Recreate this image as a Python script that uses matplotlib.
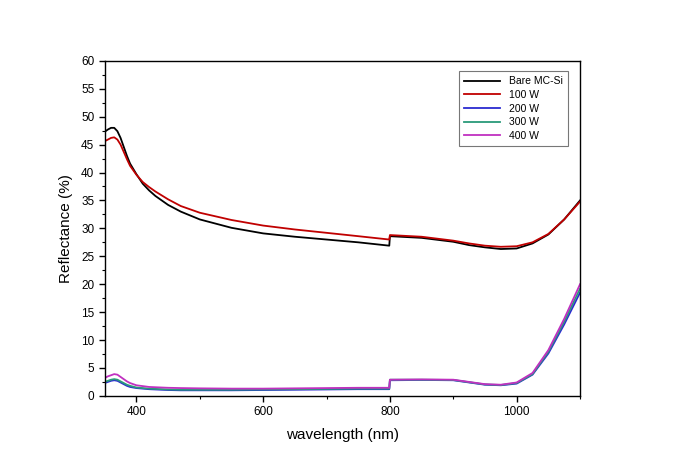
import matplotlib
matplotlib.use("Agg")
import matplotlib.pyplot as plt
from matplotlib.ticker import MultipleLocator

plt.rcParams['font.family'] = ['Liberation Sans', 'DejaVu Sans']

wavelength = [350, 355, 360, 365, 370, 375, 380, 385, 390, 400, 410, 420, 430, 450, 470, 500, 550, 600,
              650, 700, 750, 799, 800, 850, 900, 925, 950, 975, 1000, 1025, 1050, 1075, 1100]

bare = [47.3, 47.7, 48.0, 48.0, 47.4, 46.2, 44.6, 43.0, 41.6, 39.7, 38.0, 36.8, 35.8, 34.2, 33.0, 31.6,
        30.1, 29.1, 28.5, 28.0, 27.5, 26.9, 28.6, 28.3, 27.6, 27.0, 26.6, 26.3, 26.4, 27.3, 28.9, 31.6, 35.0]
w100 = [45.6, 45.9, 46.2, 46.3, 45.9, 45.0, 43.7, 42.4, 41.2, 39.6, 38.3, 37.4, 36.6, 35.2, 34.0, 32.8,
        31.5, 30.5, 29.8, 29.2, 28.6, 28.0, 28.8, 28.5, 27.8, 27.3, 26.9, 26.7, 26.8, 27.5, 29.0, 31.6, 34.8]
w200 = [2.3, 2.5, 2.7, 2.8, 2.7, 2.4, 2.1, 1.8, 1.6, 1.4, 1.3, 1.2, 1.15, 1.05, 1.0, 1.0,
        1.0, 1.05, 1.1, 1.15, 1.2, 1.2, 2.8, 2.85, 2.8, 2.4, 2.0, 1.9, 2.2, 3.8, 7.6, 12.8, 18.5]
w300 = [2.5, 2.7, 2.9, 3.0, 2.9, 2.6, 2.3, 2.0, 1.8, 1.5, 1.4, 1.3, 1.25, 1.15, 1.1, 1.1,
        1.1, 1.15, 1.2, 1.25, 1.3, 1.3, 2.9, 2.9, 2.85, 2.45, 2.05, 1.95, 2.3, 3.9, 7.9, 13.3, 19.2]
w400 = [3.2, 3.5, 3.7, 3.9, 3.8, 3.4, 3.0, 2.6, 2.3, 1.9, 1.75, 1.6, 1.55, 1.45, 1.4, 1.35,
        1.3, 1.3, 1.35, 1.4, 1.45, 1.45, 2.9, 2.95, 2.9, 2.5, 2.1, 2.0, 2.4, 4.1, 8.2, 13.8, 20.0]

labels = ['Bare MC-Si', '100 W', '200 W', '300 W', '400 W']
colors = ['#000000', '#c00000', '#2b2bd0', '#2a9a7a', '#c030c0']
series = [bare, w100, w200, w300, w400]

fig = plt.figure(figsize=(6.8, 4.54), dpi=100)
ax = fig.add_axes([0.154, 0.128, 0.699, 0.738])

for s, c, l in zip(series, colors, labels):
    ax.plot(wavelength, s, color=c, lw=1.3, label=l)

ax.set_xlim(350, 1100)
ax.set_ylim(0, 60)
ax.xaxis.set_major_locator(MultipleLocator(200))
ax.xaxis.set_minor_locator(MultipleLocator(100))
ax.yaxis.set_major_locator(MultipleLocator(5))
ax.yaxis.set_minor_locator(MultipleLocator(2.5))
ax.tick_params(which='major', direction='out', length=4, width=1, labelsize=8.5)
ax.tick_params(which='minor', direction='out', length=2, width=0.8)
for sp in ax.spines.values():
    sp.set_linewidth(1.0)

ax.set_xlabel('wavelength (nm)', fontsize=11, labelpad=7)
ax.set_ylabel('Reflectance (%)', fontsize=11, labelpad=6)

leg = ax.legend(loc='upper right', fontsize=7.5, frameon=True, fancybox=False,
                edgecolor='#555555', handlelength=3.5, borderpad=0.5, labelspacing=0.35,
                bbox_to_anchor=(0.985, 0.985))
leg.get_frame().set_linewidth(0.8)

fig.savefig('out.png', dpi=100)
